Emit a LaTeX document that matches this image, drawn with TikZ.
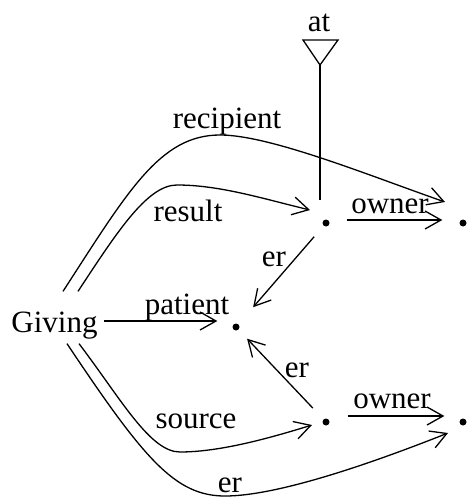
\documentclass[tikz,border=0pt]{standalone}
\usepackage{fontspec}
\setmainfont{Liberation Serif}
\usetikzlibrary{arrows.meta,calc}
\begin{document}
\begin{tikzpicture}[x=1pt,y=-1pt,
  line width=1.3pt,
  lbl/.style={font=\fontsize{31}{36}\selectfont, inner sep=0pt, anchor=base},
  dotnode/.style={circle, fill, inner sep=0pt, minimum size=7pt},
  arr/.style={-{Straight Barb[length=16pt,width=18pt]}}]
\useasboundingbox (0,0) rectangle (466,497);
% nodes
\node[font=\fontsize{31}{36}\selectfont, text height=40pt, text depth=11pt, inner ysep=0pt, inner xsep=6pt, anchor=base] (giving) at (54.5,332) {Giving};
\node[dotnode] (d1) at (326,223) {};
\node[dotnode] (d2) at (463,223) {};
\node[dotnode] (dp) at (236,327) {};
\node[dotnode] (d3) at (326,422) {};
\node[dotnode] (d4) at (463,422) {};
% triangle "at"
\coordinate (apex) at (320,65);
\draw (303,40) -- (338,40) -- (apex) -- cycle;
\draw[shorten >=18.5pt] (apex) -- (apex |- d1.north);
% labels
\node[lbl] (lat) at (319,32) {at};
\node[lbl] (lrecip) at (227,129) {recipient};
\node[lbl] (lresult) at (188,221) {result};
\node[lbl] (lowner1) at (390,213) {owner};
\node[lbl] (ler1) at (274,266) {er};
\node[lbl] (lpatient) at (187,314) {patient};
\node[lbl] (ler2) at (297,377) {er};
\node[lbl] (lowner2) at (392,408) {owner};
\node[lbl] (lsource) at (196,428) {source};
\node[lbl] (ler3) at (230,492) {er};
% straight connectors
\draw[arr, shorten >=14.5pt] ([yshift=-3.5pt]giving.east) -- ([yshift=-3.5pt]giving.east -| dp.west);
\draw[arr, shorten <=14pt, shorten >=22pt] (d1) -- (dp);
\draw[arr, shorten <=15pt, shorten >=12pt] (d3) -- (dp);
\draw[arr, shorten <=16.5pt, shorten >=16.5pt] ([yshift=3pt]d1.east) -- ([yshift=3pt]d2.west);
\draw[arr, shorten <=17.5pt, shorten >=14.5pt] ([yshift=6pt]d3.east) -- ([yshift=6pt]d4.west);
% curved connectors
\draw[arr] ($(giving.north)+(8.5,0)$) .. controls (128,191) and (160,135) .. (220,135)
  .. controls (270,135) and (369,175.5) .. ($(d2)+(-18,-21)$);
\draw[arr] ($(giving.north)+(23.5,0)$) .. controls (116.5,233) and (147,185) .. (177,185)
  .. controls (220,185) and (264,199) .. ($(d1)+(-16,-13)$);
\draw[arr] ($(giving.south)+(24.5,0)$) .. controls (121,399) and (150,452) .. (180,452)
  .. controls (220,452) and (270,438) .. ($(d3)+(-14,3)$);
\draw[arr] ($(giving.south)+(12.5,0)$) .. controls (144,459) and (175,496) .. (225,496)
  .. controls (280,496) and (380,460) .. ($(d4)+(-15,11)$);
\end{tikzpicture}
\end{document}
